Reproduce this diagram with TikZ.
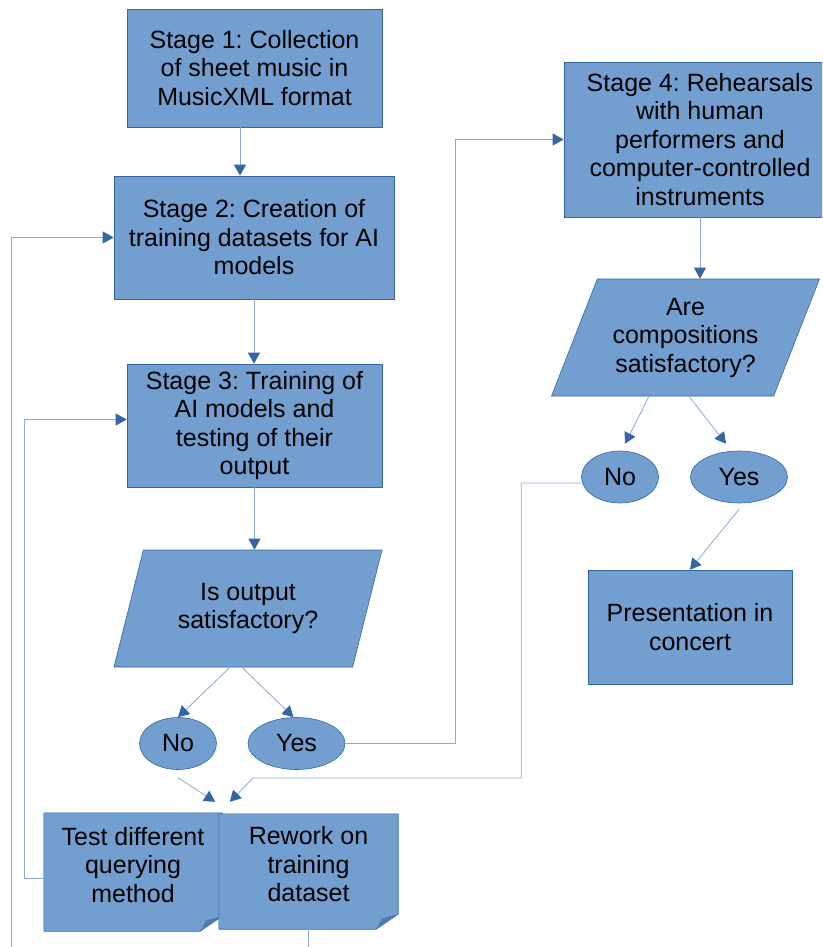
\documentclass[tikz,border=0pt]{standalone}
\usepackage{fontspec}
\setmainfont{Liberation Sans}
\usetikzlibrary{shapes.geometric,arrows.meta,backgrounds}
\definecolor{boxblue}{HTML}{729FCF}
\definecolor{edgeblue}{HTML}{3465A4}
\definecolor{lineblue}{HTML}{8AA9D6}
\definecolor{foldblue}{HTML}{5679AC}
\frenchspacing
\tikzset{
  stagebox/.style={rectangle,draw=edgeblue,line width=0.6pt,fill=boxblue,align=center,inner sep=0pt},
  querybox/.style={trapezium,trapezium left angle=60,trapezium right angle=120,
    trapezium stretches body,draw=edgeblue,line width=0.6pt,fill=boxblue,align=center,
    inner sep=0pt,minimum width=268pt,minimum height=117pt},
  answerbox/.style={ellipse,draw=edgeblue,line width=0.6pt,fill=boxblue,inner sep=0pt,minimum height=52pt},
  notebox/.style={rectangle,align=center,inner sep=0pt},
  flowline/.style={draw=lineblue,line width=0.8pt,-{Triangle[length=11pt,width=12pt,color=edgeblue]}}
}
\begin{document}
\begin{tikzpicture}[x=1pt,y=-1pt,font=\fontsize{25}{28.5}\selectfont]
	\clip (0,0) rectangle (822,947);
	% left column
	\node[stagebox,minimum width=255pt,minimum height=118pt] (s1) at (254.5,68) {Stage 1: Collection\\of sheet music in\\MusicXML format};
	\node[stagebox,minimum width=280pt,minimum height=123pt] (s2) at (254,237.5) {Stage 2: Creation of\\training datasets for AI\\models};
	\node[stagebox,minimum width=255pt,minimum height=123pt] (s3) at (254.5,425.5) {Stage 3: Training of\\AI models and\\testing of their\\output};
	\node[querybox] (p1) at (248,608.5) {Is output\\satisfactory?};
	\node[answerbox,minimum width=77pt] (no1) at (178,743.5) {No};
	\node[answerbox,minimum width=97pt] (yes1) at (296.5,743.5) {Yes};
	\node[notebox,minimum width=178pt,minimum height=104pt] (test) at (133,865) {Test different\\querying\\method};
	\node[notebox,minimum width=179pt,minimum height=101pt] (rework) at (308.5,864.5) {Rework on\\training\\dataset};
	% right column
	\node[stagebox,minimum width=272pt,minimum height=155pt] (s4) at (700,139.5) {Stage 4: Rehearsals\\with human\\performers and\\computer-controlled\\instruments};
	\node[querybox] (p2) at (685.5,337.5) {Are\\compositions\\satisfactory?};
	\node[answerbox,minimum width=77pt] (no2) at (620,477) {No};
	\node[answerbox,minimum width=97pt] (yes2) at (739,477) {Yes};
	\node[stagebox,minimum width=204pt,minimum height=114pt] (pres) at (690,627) {Presentation in\\concert};
	% sheets with folded corner
	\begin{scope}[on background layer]
		\foreach \n in {test,rework}{
			\filldraw[draw=edgeblue,line width=0.6pt,fill=boxblue] (\n.north west) -- (\n.north east)
				-- ([yshift=1pt]\n.south east) -- ([xshift=-22pt,yshift=-14pt]\n.south east)
				-- ([yshift=-14pt]\n.south west) -- cycle;
			\fill[foldblue] ([xshift=-22pt,yshift=-14pt]\n.south east) -- ([yshift=1pt]\n.south east)
				-- ([xshift=-16pt,yshift=-3pt]\n.south east) -- cycle;
		}
	\end{scope}
	% connectors
	\draw[flowline] ([xshift=-14.5pt]s1.south) -- ([xshift=-14pt]s2.north);
	\draw[flowline] (s2.south) -- (s2.south |- s3.north);
	\draw[flowline] (s3.south) -- (s3.south |- p1.north);
	\draw[flowline] ([xshift=-18pt]p1.south) -- (no1.north);
	\draw[flowline] ([xshift=-6pt]p1.south) -- ([xshift=-3pt]yes1.north);
	\draw[flowline] (yes1.east) -- ++(110,0) |- (s4.west);
	\draw[flowline] (s4.south) -- (s4.south |- p2.north);
	\draw[flowline] ([xshift=-36.5pt]p2.south) -- ([xshift=5pt,yshift=7pt]no2.north);
	\draw[flowline] ([xshift=3.5pt]p2.south) -- ([xshift=-13pt,yshift=7pt]yes2.north);
	\draw[flowline] ([yshift=-6pt]yes2.south) -- (pres.north);
	\coordinate (bend) at (253,778);
	\draw[flowline] ([yshift=-6pt]no2.west) -- ++(-60,0) |- (bend) -- ([xshift=11pt,yshift=12pt]rework.north west);
	\draw[flowline] ([yshift=-8pt]no1.south) -- ([xshift=-7pt,yshift=11pt]test.north east);
	\draw[flowline] ([yshift=-13pt]test.west) -- ++(-19,0) |- ([yshift=6pt]s3.west);
	\draw[flowline] ([yshift=-14pt]rework.south) -- ++(0,30) -| ([xshift=-102pt]s2.west) -- (s2.west);
\end{tikzpicture}
\end{document}
